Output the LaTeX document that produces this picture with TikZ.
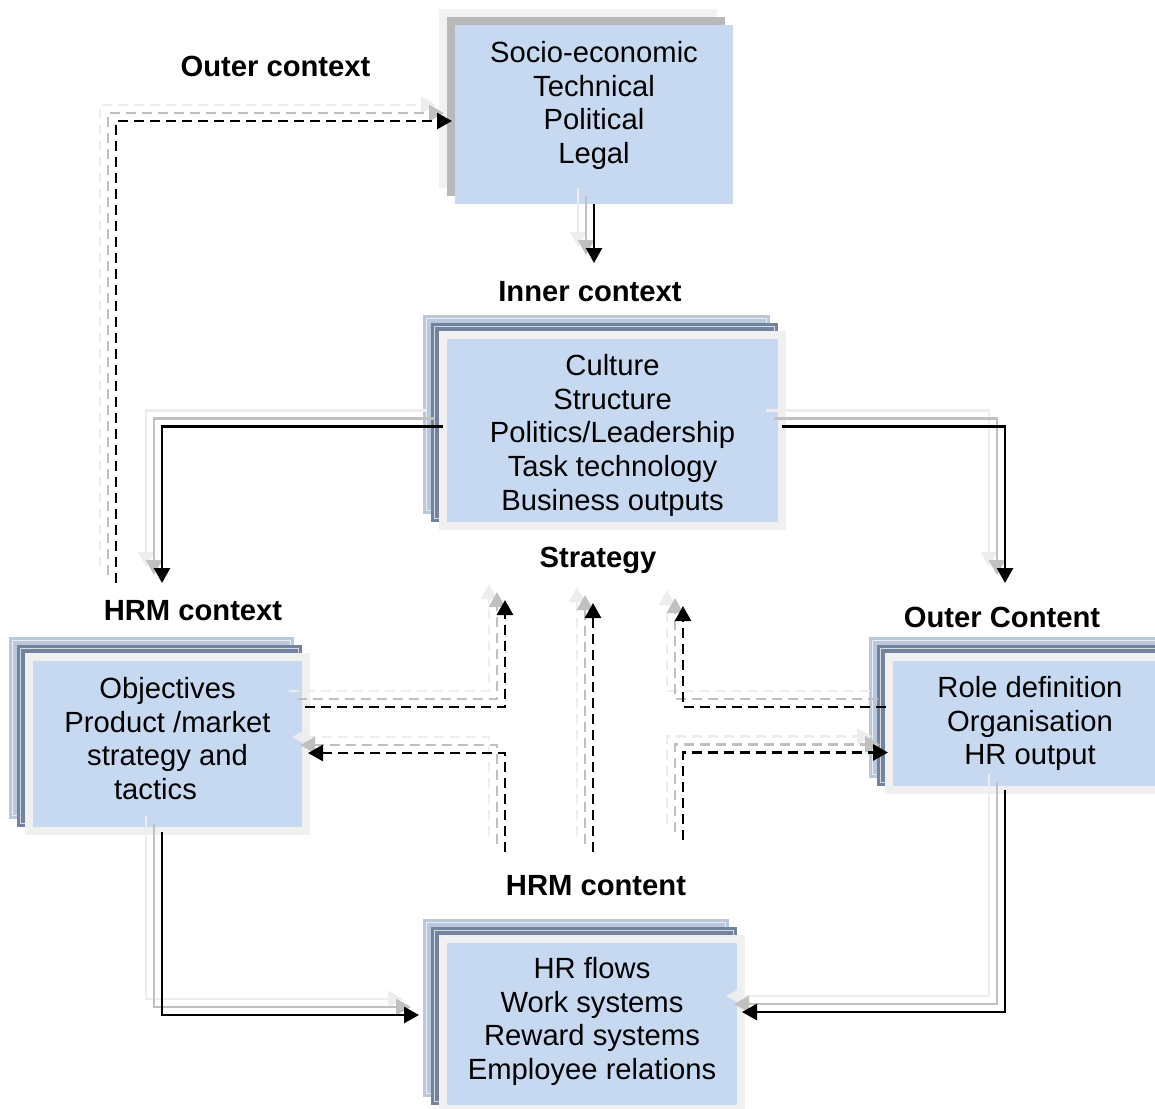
\documentclass[tikz,border=0pt]{standalone}
\usepackage{fontspec}
\setmainfont{Liberation Sans}
\usetikzlibrary{arrows.meta,calc}

\definecolor{boxblue}{HTML}{C6D9F1}
\definecolor{slatepale}{HTML}{B9C8DB}
\definecolor{slatedark}{HTML}{72839E}
\definecolor{framegrey}{HTML}{F0F0F0}
\definecolor{shgrey}{HTML}{B9B9B9}
\definecolor{shlight}{HTML}{F2F2F2}
\definecolor{trailmid}{HTML}{C0C0C0}
\definecolor{traillight}{HTML}{EDEDED}

\tikzset{
  bluebox/.style={rectangle, fill=boxblue, draw=none, inner sep=0pt, outer sep=0pt},
  boxtext/.style={inner sep=0pt, align=center, anchor=north,
    font=\fontsize{29.2}{33.8}\selectfont},
  heading/.style={inner sep=0pt, anchor=base,
    font=\fontsize{29.2}{33.8}\selectfont\bfseries},
  link/.style={line width=2.8pt, -{Triangle[length=15pt,width=16pt]}},
  dashlink/.style={link, dash pattern=on 10pt off 6pt},
}

% stacked box: pale slate, dark slate, light frame, blue face (named node)
\newcommand{\layerbox}[5]{%
  \fill[slatepale] ({#2-24},{#3-24}) rectangle ({#4-8},{#5-8});
  \draw[white, line width=0.8pt, opacity=0.7] ({#2-20.5},{#3-20.5}) rectangle ({#4-11.5},{#5-11.5});
  \fill[slatedark] ({#2-16},{#3-16}) rectangle (#4,#5);
  \draw[white, line width=0.8pt, opacity=0.7] ({#2-12.5},{#3-12.5}) rectangle ({#4-3.5},{#5-3.5});
  \fill[framegrey] ({#2-8},{#3-8}) rectangle ({#4+8},{#5+8});
  \node[bluebox, minimum width={(#4-#2)*1pt}, minimum height={(#5-#3)*1pt}]
    (#1) at ({(#2+#4)/2},{(#3+#5)/2}) {};
}

% connector drawn with two fading copies offset up-left
\newcommand{\trail}[2]{%
  \foreach \d/\c in {16/traillight, 8/trailmid, 0/black}{%
    \begin{scope}[transform canvas={shift={(-\d,-\d)}}]
      \draw[#1, draw=\c] #2;
    \end{scope}}}

\begin{document}
\begin{tikzpicture}[x=1pt, y=-1pt]
\useasboundingbox (0,0) rectangle (1155,1108);
\clip (0,0) rectangle (1155,1108);
\fill[white] (0,0) rectangle (1155,1108);

% outer context box
\fill[shlight] (439,9) rectangle (717,188);
\fill[shgrey] (447,17) rectangle (725,196);
\node[bluebox, minimum width=278pt, minimum height=179pt] (b1) at (594,114.5) {};

% remaining boxes
\layerbox{b2}{447}{339}{778}{522}
\layerbox{b3}{33}{661}{302}{827}
\layerbox{b4}{893}{661}{1167}{786}
\layerbox{b5}{447}{943}{737}{1105}

% box texts
\node[boxtext] (t1) at ([yshift=-13pt]b1.north)
  {\rule{0pt}{24pt}Socio-economic\\Technical\\Political\\Legal};
\node[boxtext] (t2) at ([yshift=-12pt]b2.north)
  {\rule{0pt}{24pt}Culture\\Structure\\Politics/Leadership\\Task technology\\Business outputs};
\node[boxtext] (t3) at ([yshift=-13pt]b3.north)
  {\rule{0pt}{24pt}Objectives\\Product /market\\strategy and\\tactics\hspace*{24pt}};
\node[boxtext] (t4) at ([yshift=-12pt]b4.north)
  {\rule{0pt}{24pt}Role definition\\Organisation\\HR output};
\node[boxtext] (t5) at ([yshift=-11pt]b5.north)
  {\rule{0pt}{24pt}HR flows\\Work systems\\Reward systems\\Employee relations};

% headings
\node[heading] (hOuterCtx) at (275.5,76) {Outer context};
\node[heading] (hInnerCtx) at (590,301) {Inner context};
\node[heading] (hStrategy) at (598,567) {Strategy};
\node[heading] (hHrmCtx) at (193,620) {HRM context};
\node[heading] (hOuterCnt) at (1002,627) {Outer Content};
\node[heading] (hHrmCnt) at (596,895) {HRM content};

% free connector ends
\coordinate (outerFoot) at (116,583);
\coordinate (innerHead) at (594,263);
\coordinate (hrmHead) at (162,583);
\coordinate (contHead) at (1005,583);
\coordinate (stratL) at (505,600);
\coordinate (stratM) at (593,603);
\coordinate (stratR) at (683,606);
\coordinate (baseL) at (505,852);
\coordinate (baseM) at (593,852);
\coordinate (baseR) at (683,840);

% connectors
\trail{dashlink}{(outerFoot) |- ($(b1.west)+(-3,6.5)$)}
\trail{link}{(b1.south) -- (innerHead)}
\trail{link}{($(b2.west)+(-4,-4)$) -| (hrmHead)}
\trail{link}{($(b2.east)+(4,-4)$) -| (contHead)}
\trail{link}{($(b3.south)+(-5.5,5)$) |- ($(b5.west)+(-28,-9)$)}
\trail{link}{($(b4.south)+(-25,4)$) |- ($(b5.east)+(5,-12)$)}
\trail{dashlink}{($(b3.east)+(3,-37)$) -| (stratL)}
\trail{dashlink}{(baseL) |- ($(b3.east)+(6,9)$)}
\trail{dashlink}{(baseM) -- (stratM)}
\trail{dashlink}{($(b4.west)+(-7,-16.5)$) -| (stratR)}
\trail{dashlink}{(baseR) |- ($(b4.west)+(-5,29)$)}
\end{tikzpicture}
\end{document}
